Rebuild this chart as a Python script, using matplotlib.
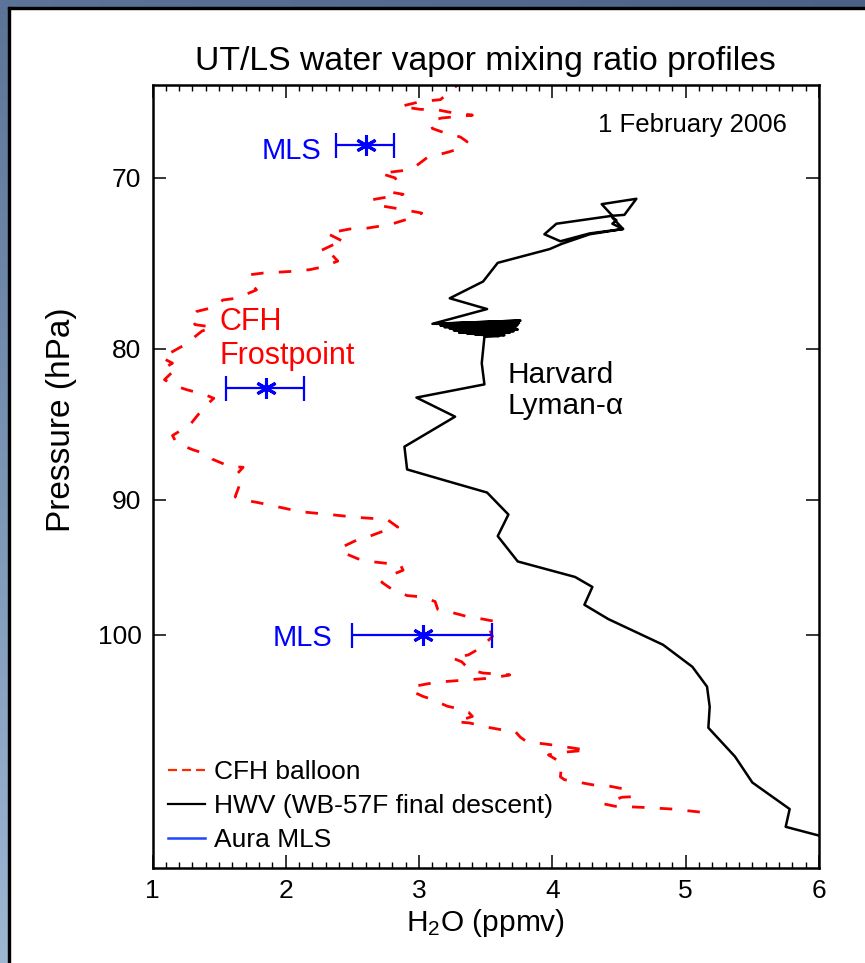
import numpy as np
import matplotlib
matplotlib.use("Agg")
import matplotlib.pyplot as plt
from matplotlib.lines import Line2D
from matplotlib.patches import Rectangle
from matplotlib.colors import LinearSegmentedColormap
from matplotlib.ticker import MultipleLocator, NullLocator

plt.rcParams['font.family'] = ['Liberation Sans', 'DejaVu Sans']
plt.rcParams['mathtext.fontset'] = 'custom'
plt.rcParams['mathtext.rm'] = 'Liberation Sans'
plt.rcParams['mathtext.it'] = 'Liberation Sans:italic'
plt.rcParams['lines.scale_dashes'] = False

# CFH frostpoint balloon profile (H2O ppmv, pressure hPa)
cfh_h2o = [3.34, 3.16, 3.01, 2.86, 3.01, 3.12, 3.23, 3.40, 3.17, 3.08,
           3.10, 3.18, 3.31, 3.36, 3.31, 3.22, 3.06, 2.95, 2.88, 2.77,
           2.71, 2.82, 2.84, 2.80, 2.88, 2.65, 2.68, 2.88, 3.02, 2.91,
           2.78, 2.61, 2.48, 2.31, 2.35, 2.44, 2.37, 2.26, 2.33, 2.39,
           2.27, 2.18, 2.05, 1.83, 1.73, 1.75, 1.78, 1.63, 1.53, 1.43,
           1.33, 1.28, 1.32, 1.45, 1.37, 1.28, 1.23, 1.07, 1.15, 1.09,
           1.15, 1.09, 1.17, 1.26, 1.39, 1.46, 1.39, 1.28, 1.15, 1.18,
           1.30, 1.42, 1.45, 1.58, 1.68, 1.63, 1.66, 1.62, 1.67, 1.79,
           2.11, 2.33, 2.53, 2.76, 2.84, 2.77, 2.63, 2.54, 2.41, 2.43,
           2.54, 2.63, 2.86, 2.88, 2.78, 2.72, 2.80, 2.91, 3.02, 3.12,
           3.14, 3.25, 3.36, 3.48, 3.58, 3.53, 3.55, 3.46, 3.37, 3.25,
           3.32, 3.38, 3.48, 3.68, 3.55, 3.18, 3.10, 2.95, 2.95, 3.03,
           3.10, 3.21, 3.31, 3.37, 3.40, 3.28, 3.38, 3.51, 3.61, 3.72,
           3.76, 3.81, 3.93, 4.03, 4.26, 4.11, 3.97, 4.07, 4.06, 4.09,
           4.21, 4.30, 4.42, 4.53, 4.60, 4.52, 4.39, 4.47, 4.68, 4.90, 5.13]
cfh_p = [64.8, 65.85, 65.95, 66.2, 66.35, 66.35, 66.5, 66.65, 66.8, 66.95,
         67.35, 67.55, 67.8, 68.05, 68.4, 68.6, 68.9, 69.5, 69.6, 69.7,
         69.75, 70.0, 70.25, 70.8, 70.9, 71.2, 71.5, 71.75, 71.95, 72.3,
         72.6, 72.8, 72.85, 73.1, 73.25, 73.6, 73.7, 74.1, 74.2, 74.7,
         75.05, 75.2, 75.3, 75.4, 75.5, 76.1, 76.4, 76.9, 77.0, 77.5,
         77.7, 78.1, 78.5, 78.65, 78.9, 79.5, 79.8, 80.55, 80.9, 81.2,
         81.45, 81.95, 82.35, 82.6, 82.9, 83.15, 83.7, 84.9, 85.6, 86.1,
         86.55, 86.9, 87.2, 87.7, 87.75, 88.25, 88.8, 89.8, 90.0, 90.2,
         90.85, 91.05, 91.25, 91.4, 91.95, 92.1, 92.6, 92.85, 93.45, 93.8,
         94.25, 94.45, 94.7, 95.1, 95.5, 96.0, 96.55, 97.0, 97.1, 97.45,
         98.05, 98.3, 98.6, 98.8, 99.0, 99.6, 100.15, 101.05, 101.6, 101.85,
         102.15, 102.8, 103.05, 103.2, 103.45, 103.75, 103.85, 104.15, 104.55, 104.95,
         105.2, 105.75, 106.0, 106.25, 106.6, 107.05, 107.15, 107.5, 107.7, 107.85,
         108.35, 108.75, 108.9, 109.05, 109.45, 109.6, 109.85, 110.55, 111.75, 112.0,
         112.25, 112.45, 112.55, 112.8, 113.5, 113.55, 114.15, 114.35, 114.45, 114.6, 114.9]

# Harvard Lyman-alpha (WB-57F final descent)
hwv_h2o = [4.45, 4.37, 4.63, 4.54, 4.45, 4.03, 3.94, 4.06, 4.28, 4.53,
           4.45, 4.48, 4.45, 4.53, 4.28, 4.07, 3.98, 3.59, 3.48, 3.23,
           3.51, 3.10, 3.76, 3.13, 3.75, 3.16, 3.74, 3.19, 3.73, 3.23,
           3.74, 3.26, 3.71, 3.30, 3.68, 3.36, 3.64, 3.42, 3.60, 3.49,
           3.47, 3.49, 2.98, 3.27, 2.89, 2.91, 3.21, 3.51, 3.67, 3.59,
           3.74, 4.17, 4.30, 4.24, 4.42, 4.83, 5.05, 5.16, 5.18, 5.17,
           5.37, 5.50, 5.78, 5.75, 6.00]
hwv_p = [72.1, 71.45, 71.15, 72.05, 72.1, 72.55, 73.15, 73.55, 73.1, 72.85,
         72.55, 72.35, 72.2, 72.85, 73.15, 73.7, 74.0, 74.8, 75.9, 76.9,
         77.55, 78.45, 78.25, 78.45, 78.4, 78.55, 78.5, 78.65, 78.6, 78.75,
         78.8, 78.85, 78.9, 79.0, 79.0, 79.05, 79.15, 79.1, 79.2, 79.25,
         80.9, 82.25, 83.1, 84.35, 86.35, 87.9, 88.7, 89.5, 91.05, 92.6,
         94.45, 95.6, 96.35, 97.7, 98.8, 100.8, 102.55, 104.15, 105.8, 107.55,
         110.0, 112.25, 114.6, 116.2, 117.0]

# Aura MLS points with horizontal error bars
mls_h2o = [2.60, 1.85, 3.03]
mls_p = [68.2, 82.5, 100.0]
mls_err_lo = [0.22, 0.30, 0.53]
mls_err_hi = [0.21, 0.29, 0.52]

yticks = [70, 80, 90, 100]
ytick_labels = ['70', '80', '90', '100']

W, H = 865, 963
fig = plt.figure(figsize=(W / 100, H / 100), dpi=100)

# bluish slide frame on the left and top
left_ax = fig.add_axes([0, 0, 8 / W, 1])
left_ax.imshow(np.linspace(0, 1, 256)[:, None], aspect='auto',
               cmap=LinearSegmentedColormap.from_list('l', ['#5a7397', '#9db7d3']))
left_ax.axis('off')
top_ax = fig.add_axes([0, 1 - 7 / H, 1, 7 / H])
top_ax.imshow(np.linspace(0, 1, 256)[None, :], aspect='auto',
              cmap=LinearSegmentedColormap.from_list('t', ['#5c7499', '#4a6285']))
top_ax.axis('off')
fig.patches.append(Rectangle((8 / W, 0), 2 / W, 1 - 7 / H, transform=fig.transFigure,
                             color='black', zorder=5))
fig.patches.append(Rectangle((8 / W, 1 - 9 / H), 1 - 8 / W, 2 / H, transform=fig.transFigure,
                             color='black', zorder=5))

ax = fig.add_axes([152.5 / W, 95 / H, 666.5 / W, 783 / H])

ax.plot(cfh_h2o, cfh_p, color='red', lw=2.0, dashes=(9, 11))
ax.plot(hwv_h2o, hwv_p, color='black', lw=1.8)
ax.errorbar(mls_h2o, mls_p, xerr=[mls_err_lo, mls_err_hi], fmt='none',
            ecolor='blue', elinewidth=1.6, capsize=9, capthick=1.6)
ax.plot(mls_h2o, mls_p, ls='none', marker=(6, 2, 0), ms=15, mec='blue', mew=2.2)

ax.set_yscale('log')
ax.set_xlim(1, 6)
ax.set_ylim(120, 65.1)
ax.set_yticks(yticks, labels=ytick_labels)
ax.yaxis.set_minor_locator(NullLocator())
ax.xaxis.set_major_locator(MultipleLocator(1))
ax.xaxis.set_minor_locator(MultipleLocator(0.1))

ax.tick_params(axis='both', which='both', direction='in', top=True, right=True,
               labelsize=19, pad=8)
ax.tick_params(which='major', length=9.5, width=1.1)
ax.tick_params(which='minor', length=4.5, width=1.0)
for s in ax.spines.values():
    s.set_linewidth(1.8)

ax.set_title('UT/LS water vapor mixing ratio profiles', fontsize=24.3, pad=11)
ax.set_xlabel('H$_2$O (ppmv)', fontsize=21.5)
ax.xaxis.set_label_coords(0.5, -0.05)
ax.set_ylabel('Pressure (hPa)', fontsize=24)
ax.yaxis.set_label_coords(-0.114, 0.572)

ax.text(5.76, 67.55, '1 February 2006', fontsize=18.5, ha='right', va='baseline')
ax.text(2.27, 69.0, 'MLS', fontsize=21, color='blue', ha='right', va='baseline')
ax.text(2.35, 100.9, 'MLS', fontsize=21, color='blue', ha='right', va='baseline')
ax.text(1.505, 78.85, 'CFH', fontsize=22, color='red', ha='left', va='baseline')
ax.text(1.505, 80.95, 'Frostpoint', fontsize=22, color='red', ha='left', va='baseline')
ax.text(3.66, 82.15, 'Harvard', fontsize=21.5, ha='left', va='baseline')
ax.text(3.66, 84.2, 'Lyman-α', fontsize=21.5, ha='left', va='baseline')

handles = [Line2D([], [], color='#ff2a00', lw=1.6, dashes=(6.5, 3.6)),
           Line2D([], [], color='black', lw=1.6),
           Line2D([], [], color='#1f45ff', lw=1.8)]
labels = ['CFH balloon', 'HWV (WB-57F final descent)', 'Aura MLS']
ax.legend(handles, labels, loc='lower left', bbox_to_anchor=(0.007, 0.007),
          borderaxespad=0, frameon=False, fontsize=19, handlelength=1.42,
          handletextpad=0.34, labelspacing=0.38)

fig.savefig('out.png', dpi=100)
